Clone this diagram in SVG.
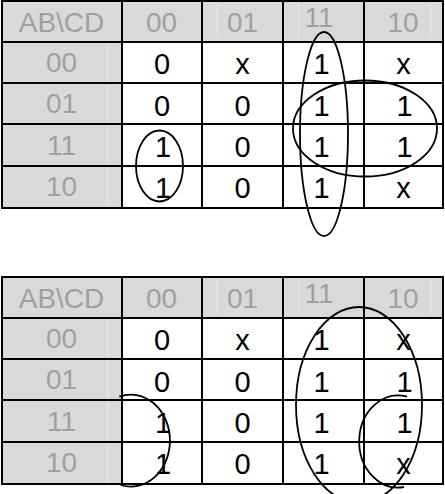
<svg xmlns="http://www.w3.org/2000/svg" width="445" height="494" viewBox="0 0 445 494">
<style>
.bg{fill:#ffffff}
.hd{fill:#d9d9d9}
.grid{stroke:#000;stroke-width:2;fill:none}
.faint{stroke:#e9e9e9;stroke-width:1;fill:none}
.ht{font-family:"Liberation Sans",Arial,sans-serif;font-size:28px;fill:#a0a0a0;text-anchor:middle}
.dt{font-family:"Liberation Sans",Arial,sans-serif;font-size:29px;fill:#000;text-anchor:middle}
.loop{stroke:#000;stroke-width:1.8;fill:none}
</style>
<defs>
<g id="table">
  <rect class="bg" x="0" y="0" width="445" height="210"/>
  <rect class="hd" x="2" y="1" width="442" height="41"/>
  <rect class="hd" x="2" y="42" width="120" height="166"/>
  <path class="faint" d="M107.5 44V206M217.5 3V38M298.5 3V38M430.5 3V38"/>
  <path class="grid" d="M1 1H444M2 0V209M122 1V209M202 1V209M283 1V209M364 1V209M443 1V209M1 42H444M1 83H444M1 124H444M1 166H444M1 208H444"/>
  <text class="ht" x="61.5" y="32">AB\CD</text>
  <text class="ht" x="161.5" y="32">00</text>
  <text class="ht" x="242.5" y="32">01</text>
  <text class="ht" x="319" y="27">11</text>
  <text class="ht" x="403" y="32">10</text>
  <text class="ht" x="61.5" y="72">00</text>
  <text class="ht" x="61.5" y="113">01</text>
  <text class="ht" x="61.5" y="154.5">11</text>
  <text class="ht" x="61.5" y="195.5">10</text>
  <text class="dt" x="162" y="74">0</text>
  <text class="dt" x="242.5" y="74">x</text>
  <text class="dt" x="321.5" y="74">1</text>
  <text class="dt" x="403.5" y="74">x</text>
  <text class="dt" x="162" y="115.5">0</text>
  <text class="dt" x="242.5" y="115.5">0</text>
  <text class="dt" x="321.5" y="115.5">1</text>
  <text class="dt" x="404.5" y="115.5">1</text>
  <text class="dt" x="163" y="157">1</text>
  <text class="dt" x="242.5" y="157">0</text>
  <text class="dt" x="321.5" y="157">1</text>
  <text class="dt" x="404.5" y="157">1</text>
  <text class="dt" x="163" y="198">1</text>
  <text class="dt" x="242.5" y="198">0</text>
  <text class="dt" x="321.5" y="198">1</text>
  <text class="dt" x="403.5" y="198">x</text>
</g>
</defs>
<g id="kmap1">
  <use href="#table"/>
  <g id="kmap1-groups">
    <ellipse class="loop" cx="324" cy="134" rx="24" ry="102"/>
    <ellipse class="loop" cx="365" cy="128.5" rx="72" ry="48"/>
    <ellipse class="loop" cx="159.5" cy="166" rx="23.5" ry="35.5"/>
  </g>
</g>
<g id="kmap2" transform="translate(0,276)">
  <use href="#table"/>
  <g id="kmap2-groups">
    <ellipse class="loop" cx="359" cy="129" rx="63" ry="98"/>
    <path class="loop" d="M119.3 120.7A39 46 0 1 1 120.7 209"/>
    <path class="loop" d="M407 120.7A39 46 0 1 0 404 211"/>
  </g>
</g>
</svg>
